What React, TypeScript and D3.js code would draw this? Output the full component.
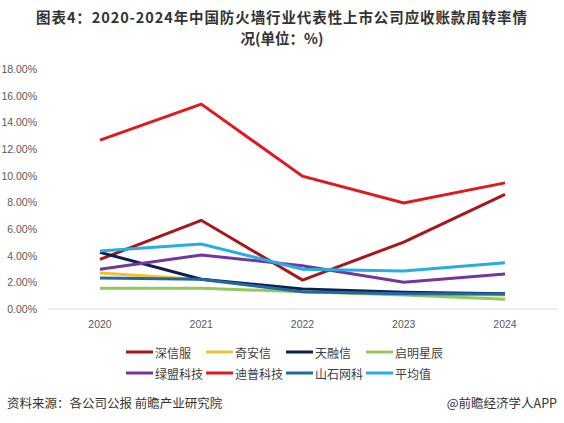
import * as d3 from "d3";

const years = ["2020", "2021", "2022", "2023", "2024"];

const sangfor = [3.72, 6.65, 2.17, 5.02, 8.6];
const qianxin = [2.7, 2.22, 1.3, 1.12, 1.05];
const topsec = [4.25, 2.23, 1.5, 1.25, 1.15];
const venustech = [1.55, 1.55, 1.3, 1.05, 0.73];
const nsfocus = [2.98, 4.05, 3.25, 2.0, 2.62];
const dptech = [12.67, 15.37, 9.96, 7.95, 9.46];
const hillstone = [2.33, 2.23, 1.3, 1.15, 1.12];
const average = [4.35, 4.88, 2.98, 2.85, 3.47];

const seriesNames = ["深信服", "奇安信", "天融信", "启明星辰", "绿盟科技", "迪普科技", "山石网科", "平均值"];
const seriesValues = [sangfor, qianxin, topsec, venustech, nsfocus, dptech, hillstone, average];
const seriesColors = ["#A8161B", "#F2C12E", "#0E1F4F", "#92C95A", "#7236A0", "#E0191F", "#1F6AA5", "#27ADE3"];

const yTicks = [0, 2, 4, 6, 8, 10, 12, 14, 16, 18];

export default function App() {
    const width = 564;
    const height = 423;
    const margin = { top: 69, right: 7, bottom: 114, left: 48 };

    const xScale = d3.scalePoint().domain(years).range([100, 505]);
    const yScale = d3.scaleLinear().domain([0, 18]).range([height - margin.bottom, margin.top]);
    const line = d3.line<number>().x((_, i) => xScale(years[i]) ?? 0).y((d) => yScale(d));

    const font = "'Liberation Sans', Arial, sans-serif";
    const cjk = "'Noto Sans CJK SC', sans-serif";

    return (
        <svg
            width={width}
            height={height}
            viewBox={`0 0 ${width} ${height}`}
            style={{ position: "absolute", left: 0, top: 0, background: "#fff" }}
        >
            {/* title wraps onto two lines */}
            <text x={width / 2} y={23} textAnchor="middle" fontFamily={cjk} fontWeight="bold" fontSize="14.5" letterSpacing="0.9" fill="#333">
                图表4：2020-2024年中国防火墙行业代表性上市公司应收账款周转率情
            </text>
            <text x={width / 2} y={44} textAnchor="middle" fontFamily={cjk} fontWeight="bold" fontSize="14.5" fill="#333">
                况(单位：%)
            </text>

            {yTicks.map((tick) => (
                <text
                    key={tick}
                    x={37}
                    y={yScale(tick)}
                    textAnchor="end"
                    dominantBaseline="central"
                    fontFamily={font}
                    fontSize="10.5"
                    fill="#595959"
                >
                    {tick.toFixed(2)}%
                </text>
            ))}

            <line
                x1={margin.left}
                x2={width - margin.right}
                y1={yScale(0)}
                y2={yScale(0)}
                stroke="#d9d9d9"
                strokeWidth="1"
            />

            {years.map((y) => (
                <text
                    key={y}
                    x={xScale(y)}
                    y={324}
                    textAnchor="middle"
                    dominantBaseline="central"
                    fontFamily={font}
                    fontSize="10.5"
                    fill="#595959"
                >
                    {y}
                </text>
            ))}

            {seriesValues.map((vals, i) => (
                <path
                    key={seriesNames[i]}
                    d={line(vals) ?? ""}
                    fill="none"
                    stroke={seriesColors[i]}
                    strokeWidth="3"
                    strokeLinejoin="miter"
                />
            ))}

            {seriesNames.map((name, i) => {
                const col = i % 4;
                const row = Math.floor(i / 4);
                const x0 = 126 + col * 80;
                const y0 = 352 + row * 21;
                return (
                    <g key={name}>
                        <line x1={x0} x2={x0 + 27} y1={y0} y2={y0} stroke={seriesColors[i]} strokeWidth="3" />
                        <text x={x0 + 29} y={y0} dominantBaseline="central" fontFamily={cjk} fontSize="12" fill="#404040">
                            {name}
                        </text>
                    </g>
                );
            })}

            <text x={7} y={402} dominantBaseline="central" fontFamily={cjk} fontSize="12.5" fill="#333">
                资料来源：各公司公报 前瞻产业研究院
            </text>
            <text x={557} y={402} textAnchor="end" dominantBaseline="central" fontFamily={cjk} fontSize="12.5" fill="#333">
                @前瞻经济学人APP
            </text>
        </svg>
    );
}
